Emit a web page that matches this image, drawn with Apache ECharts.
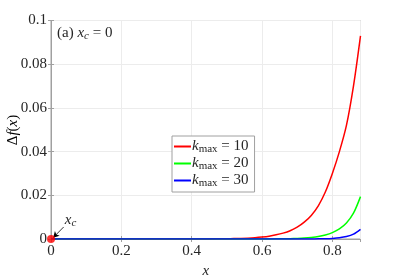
<!DOCTYPE html>
<html><head><meta charset="utf-8">
<script src="https://cdn.jsdelivr.net/npm/echarts@6/dist/echarts.min.js"></script>
<style>html,body{margin:0;padding:0;background:#fff}#c{width:399px;height:279px}</style>
</head><body><div id="c"></div>
<script>
const xs      = [0, 0.1, 0.2, 0.3, 0.4, 0.45, 0.5, 0.52, 0.54, 0.56, 0.58, 0.6, 0.62, 0.64, 0.66, 0.68, 0.7, 0.72, 0.74, 0.76, 0.78, 0.8, 0.82, 0.84, 0.86, 0.88];
const kmax10  = [0, 0, 0.000001, 0.000003, 0.00002, 0.00005, 0.00013, 0.0002, 0.00028, 0.0004, 0.0006, 0.0009, 0.0013, 0.0019, 0.0027, 0.0038, 0.0054, 0.0077, 0.0108, 0.0152, 0.0215, 0.030, 0.040, 0.052, 0.070, 0.093];
const kmax20  = [0, 0, 0, 0, 0, 0, 0, 0, 0, 0.00001, 0.000015, 0.00002, 0.00004, 0.00006, 0.0001, 0.00017, 0.00027, 0.00043, 0.0007, 0.0011, 0.0018, 0.0029, 0.0046, 0.0073, 0.0118, 0.0194];
const kmax30  = [0, 0, 0, 0, 0, 0, 0, 0, 0, 0, 0, 0, 0, 0, 0.000003, 0.000006, 0.00001, 0.00002, 0.00003, 0.00007, 0.00014, 0.00028, 0.00055, 0.0011, 0.0022, 0.0044];
const seriesNames = ['10', '20', '30'];
const xTicks = [0, 0.2, 0.4, 0.6, 0.8];
const yTicks = [0, 0.02, 0.04, 0.06, 0.08, 0.1];
const xc = [0, 0];

const pairs = v => xs.map((x, i) => [x, v[i]]);
const FONT = 'Liberation Serif';
const frame = '#a0a0a0';
const chart = echarts.init(document.getElementById('c'));
const rich = {
  i: {fontFamily: FONT, fontStyle: 'italic', fontSize: 15, color: '#262626', fontWeight: 'normal'},
  n: {fontFamily: FONT, fontSize: 15, color: '#262626', fontWeight: 'normal'},
  s: {fontFamily: FONT, fontSize: 11, color: '#262626', padding: [6, 0, 0, 0], fontWeight: 'normal'},
  si: {fontFamily: FONT, fontStyle: 'italic', fontSize: 11, color: '#262626', padding: [6, 0, 0, 0], fontWeight: 'normal'}
};
chart.setOption({
  animation: false,
  grid: {left: 51, right: 38.5, top: 20.5, bottom: 40, show: true, borderColor: frame, borderWidth: 1,
    containLabel: false, outerBoundsMode: 'none'},
  title: {
    text: '{n|(a) }{i|x}{si|c}{n| = 0}', left: 57, top: 25, padding: 0,
    textStyle: {rich: rich, fontWeight: 'normal'}
  },
  graphic: [{
    type: 'text', x: 13, y: 130, rotation: Math.PI / 2, silent: true,
    style: {text: '{n|Δ}{i|f}{n|(}{i|x}{n|)}', rich: rich, align: 'center', verticalAlign: 'middle'}
  }],
  legend: {
    orient: 'vertical', left: 172, top: 136, itemGap: 1,
    itemWidth: 17, itemHeight: 2, icon: 'rect',
    borderColor: frame, borderWidth: 1, backgroundColor: '#fff',
    padding: [3, 6, 3, 2],
    data: seriesNames.map(n => 'k' + n),
    formatter: name => '{i|k}{s|max}{n| = ' + name.slice(1) + '}',
    textStyle: {rich: rich, padding: [0, 0, 0, -4]}
  },
  xAxis: [{
    type: 'value', min: xTicks[0], max: 0.88, interval: 0.2,
    name: '{i|x}', nameLocation: 'middle', nameGap: 23, nameTextStyle: {rich: rich},
    axisLine: {lineStyle: {color: frame}}, axisTick: {inside: true, length: 3, lineStyle: {color: frame}},
    axisLabel: {fontFamily: FONT, fontSize: 15, color: '#262626', margin: 5, showMaxLabel: false,
      formatter: v => xTicks.includes(Math.round(v*10)/10) ? String(Math.round(v*10)/10) : ''},
    splitLine: {lineStyle: {color: '#ececec'}}
  }, {
    type: 'value', position: 'top', min: xTicks[0], max: 0.88, interval: 0.2,
    axisLine: {show: false}, axisTick: {inside: true, length: 3, lineStyle: {color: frame}},
    axisLabel: {show: false}, splitLine: {show: false}
  }],
  yAxis: [{
    type: 'value', min: yTicks[0], max: 0.1, interval: 0.02,
    axisLine: {lineStyle: {color: frame}}, axisTick: {inside: true, length: 3, lineStyle: {color: frame}},
    axisLabel: {fontFamily: FONT, fontSize: 15, color: '#262626', margin: 4,
      formatter: v => String(Math.round(v*100)/100)},
    splitLine: {lineStyle: {color: '#ececec'}}
  }, {
    type: 'value', position: 'right', min: yTicks[0], max: 0.1, interval: 0.02,
    axisLine: {show: false}, axisTick: {inside: true, length: 3, lineStyle: {color: frame}},
    axisLabel: {show: false}, splitLine: {show: false}
  }],
  series: [
    {name: 'k10', type: 'line', data: pairs(kmax10), smooth: 0.3, showSymbol: false, lineStyle: {color: '#ff0000', width: 1.5}, itemStyle: {color: '#ff0000'}},
    {name: 'k20', type: 'line', data: pairs(kmax20), smooth: 0.3, showSymbol: false, lineStyle: {color: '#00ff00', width: 1.5}, itemStyle: {color: '#00ff00'}},
    {name: 'k30', type: 'line', data: pairs(kmax30), smooth: 0.3, showSymbol: false, lineStyle: {color: '#0000ff', width: 1.5}, itemStyle: {color: '#0000ff'}},
    {name: 'xc', type: 'scatter', data: [xc], symbolSize: 8, itemStyle: {color: '#ff0000'}, z: 5,
      markLine: {
        silent: true, symbol: ['none', 'arrow'], symbolSize: [5, 6],
        lineStyle: {color: '#000', width: 0.8, type: 'solid'},
        label: {show: false},
        data: [[{coord: [0.036, 0.0055]}, {coord: [0.006, 0.0006]}]]
      },
      markPoint: {
        silent: true, symbol: 'circle', symbolSize: 1, itemStyle: {color: 'transparent'},
        label: {show: true, position: 'right', formatter: '{i|x}{si|c}', rich: rich, offset: [-4, 0]},
        data: [{coord: [0.035, 0.0085]}]
      }
    }
  ]
});
</script></body></html>
